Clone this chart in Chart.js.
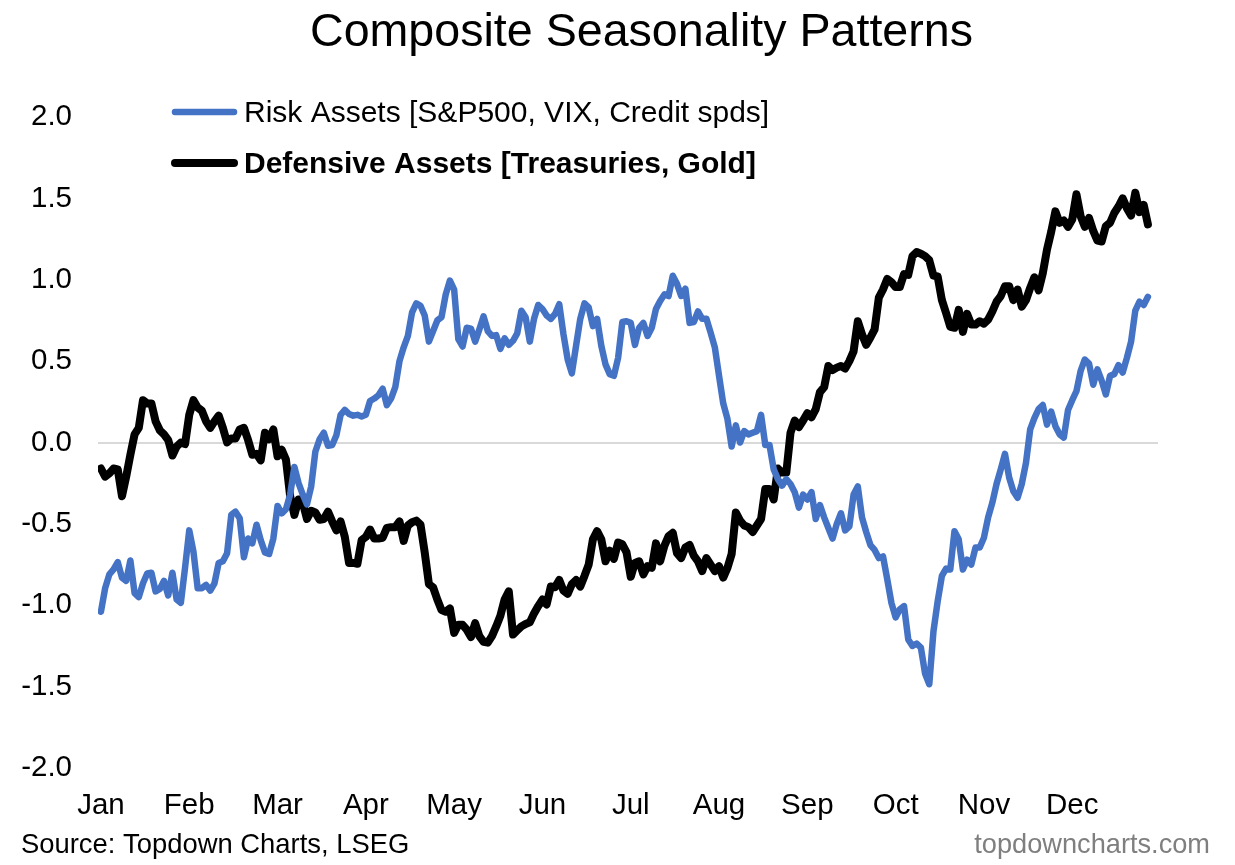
<!DOCTYPE html>
<html><head><meta charset="utf-8">
<style>html,body{margin:0;padding:0;background:#fff}#w{position:relative;width:1235px;height:865px}</style>
<script src="https://cdn.jsdelivr.net/npm/chart.js@4"></script>
</head><body><div id="w"><canvas id="c" width="1235" height="865"></canvas></div>
<script>
const titleText = "Composite Seasonality Patterns";
const seriesNames = ["Risk Assets [S&P500, VIX, Credit spds]", "Defensive Assets [Treasuries, Gold]"];
const sourceText = "Source: Topdown Charts, LSEG";
const brandText = "topdowncharts.com";
const months = ["Jan","Feb","Mar","Apr","May","Jun","Jul","Aug","Sep","Oct","Nov","Dec"];
const monthDays = [0,21,42,63,84,105,126,147,168,189,210,231];
const riskAssets = [
-1.04,-0.895,-0.81,-0.78,-0.735,-0.83,-0.85,-0.725,-0.925,-0.95,
-0.865,-0.805,-0.80,-0.915,-0.90,-0.85,-0.94,-0.80,-0.965,-0.985,
-0.77,-0.54,-0.67,-0.895,-0.895,-0.875,-0.91,-0.865,-0.74,-0.73,
-0.68,-0.445,-0.425,-0.465,-0.705,-0.59,-0.62,-0.505,-0.60,-0.675,
-0.685,-0.59,-0.39,-0.435,-0.41,-0.32,-0.15,-0.25,-0.32,-0.38,
-0.27,-0.055,0.02,0.06,-0.02,-0.015,0.045,0.17,0.20,0.175,
0.165,0.17,
0.16,0.17,0.255,0.27,0.29,0.33,0.23,0.27,0.34,0.50,
0.585,0.655,0.80,0.855,0.84,0.78,0.62,0.685,0.75,0.77,
0.91,0.995,0.94,0.635,0.59,0.705,0.70,0.62,0.695,0.775,
0.685,0.655,0.66,0.575,0.64,0.60,0.625,0.67,0.81,0.77,
0.62,0.76,0.845,0.82,0.78,0.76,0.79,0.85,0.665,0.51,
0.425,0.595,0.76,0.855,0.83,0.715,0.76,0.595,0.48,0.42,
0.41,0.52,0.74,0.745,0.735,
0.60,0.705,0.735,0.655,0.705,0.82,0.87,0.91,0.90,1.025,
0.975,0.90,0.945,0.735,0.74,0.805,0.76,0.76,0.675,0.585,
0.41,0.24,0.145,-0.025,0.105,0,0.07,0.05,0.06,0.07,
0.17,-0.015,-0.015,-0.165,-0.225,-0.265,-0.225,-0.255,-0.305,
-0.40,-0.32,-0.35,-0.305,-0.47,-0.385,-0.46,-0.525,-0.59,-0.50,
-0.435,-0.54,-0.515,-0.32,-0.27,-0.46,-0.55,-0.63,-0.66,-0.71,
-0.70,-0.84,-0.985,-1.075,-1.025,-1.005,-1.21,-1.25,-1.235,-1.26,
-1.42,-1.485,-1.16,-0.975,-0.82,-0.775,-0.78,-0.545,-0.595,-0.78,
-0.72,-0.75,-0.645,-0.645,-0.585,-0.46,-0.37,-0.255,-0.165,-0.07,
-0.215,-0.30,-0.34,-0.255,-0.125,0.08,
0.15,0.205,0.23,0.11,0.19,0.10,0.05,0.03,0.20,0.26,
0.315,0.44,0.51,0.485,0.355,0.45,0.38,0.295,0.41,0.42,
0.475,0.43,0.52,0.62,0.81,0.865,0.845,0.895
];
const defensiveAssets = [
-0.16,-0.21,-0.19,-0.16,-0.165,-0.33,-0.21,-0.075,0.05,0.09,
0.26,0.24,0.24,0.13,0.075,0.05,0.015,-0.08,-0.025,0,
-0.01,0.17,0.26,0.215,0.195,0.13,0.09,0.13,0.165,0.09,
0,0.025,0.025,0.08,0.09,0.015,-0.075,-0.07,-0.11,0.06,
0.02,0.08,-0.085,-0.045,-0.105,-0.33,-0.445,-0.35,-0.37,-0.47,
-0.42,-0.43,-0.475,-0.47,-0.425,-0.485,-0.54,-0.485,-0.58,-0.74,
-0.74,-0.745,-0.60,-0.58,-0.535,
-0.59,-0.59,-0.585,-0.525,-0.52,-0.52,-0.485,-0.605,-0.51,-0.49,
-0.48,-0.505,-0.675,-0.87,-0.89,-0.965,-1.03,-1.04,-1.02,-1.17,
-1.12,-1.12,-1.15,-1.195,-1.11,-1.19,-1.225,-1.23,-1.19,-1.13,
-1.065,-0.965,-0.915,-1.18,-1.155,-1.13,-1.115,-1.105,-1.05,-1.005,
-0.965,-0.995,-0.885,-0.89,-0.845,-0.91,-0.93,-0.87,-0.845,-0.885,
-0.82,-0.75,-0.595,-0.545,-0.595,-0.73,-0.665,-0.715,-0.615,-0.625,
-0.675,-0.825,
-0.74,-0.73,-0.81,-0.76,-0.77,-0.62,-0.73,-0.635,-0.575,-0.555,
-0.68,-0.71,-0.645,-0.63,-0.695,-0.73,-0.79,-0.71,-0.75,-0.79,
-0.76,-0.83,-0.77,-0.685,-0.43,-0.48,-0.51,-0.52,-0.55,-0.51,
-0.47,-0.285,-0.285,-0.35,-0.16,-0.185,-0.185,0.06,0.135,0.095,
0.135,0.18,0.155,0.205,0.31,0.34,0.47,0.445,0.46,0.47,
0.455,0.50,0.56,0.745,0.665,0.60,0.645,0.695,0.89,0.94,
1.005,0.985,0.955,0.955,
1.035,1.03,1.145,1.17,1.16,1.145,1.12,1.025,1.02,0.875,
0.795,0.71,0.705,0.815,0.68,0.79,0.725,0.725,0.745,0.73,
0.755,0.805,0.865,0.90,0.96,0.96,0.875,0.94,0.835,0.875,
0.95,1.015,0.935,1.04,1.185,1.295,1.42,1.35,1.365,1.325,
1.37,1.525,1.39,1.325,1.38,1.30,1.24,1.235,1.33,1.35,
1.41,1.45,1.50,1.44,1.395,1.535,1.415,1.46,1.34
];
const FONT = '"Liberation Sans", Arial, sans-serif';
const BLUE = '#4472C4', BLACK = '#000000';

const textPlugin = {
  id:'textPlugin',
  afterDraw(chart){
    const c = chart.ctx; c.save();
    c.textBaseline='middle';
    c.textAlign='center'; c.fillStyle='#000'; c.font='46.6px '+FONT;
    c.fillText(titleText,641.5,33);
    c.textAlign='left';
    c.lineCap='round';
    c.strokeStyle=BLUE; c.lineWidth=6.5; c.beginPath(); c.moveTo(175,112); c.lineTo(234,112); c.stroke();
    c.strokeStyle=BLACK; c.lineWidth=8; c.beginPath(); c.moveTo(175,163); c.lineTo(234,163); c.stroke();
    c.fillStyle='#000';
    c.font='30px '+FONT; c.fillText(seriesNames[0],244,114);
    c.font='bold 30px '+FONT; c.fillText(seriesNames[1],244,165);
    c.font='27.4px '+FONT; c.fillText(sourceText,21,845);
    c.fillStyle='#7f7f7f'; c.textAlign='right'; c.font='27.2px '+FONT; c.fillText(brandText,1210,846);
    c.restore();
  }
};

new Chart(document.getElementById('c'),{
  type:'line',
  data:{datasets:[
    {label:seriesNames[0],data:riskAssets.map((y,x)=>({x,y})),borderColor:BLUE,borderWidth:6.5,pointRadius:0,tension:0,borderJoinStyle:'round',borderCapStyle:'round'},
    {label:seriesNames[1],data:defensiveAssets.map((y,x)=>({x,y})),borderColor:BLACK,borderWidth:8,pointRadius:0,tension:0,borderJoinStyle:'round',borderCapStyle:'round'}
  ]},
  options:{
    responsive:false,animation:false,devicePixelRatio:1,
    layout:{padding:{top:117,right:77,bottom:0,left:0}},
    plugins:{legend:{display:false},title:{display:false},tooltip:{enabled:false}},
    scales:{
      x:{type:'linear',min:-0.7,max:251.4,
        afterBuildTicks(s){s.ticks=monthDays.map(value=>({value}));},
        afterFit(s){s.height=97;},
        grid:{display:false},border:{display:false},
        ticks:{autoSkip:false,maxRotation:0,minRotation:0,padding:12,color:'#000',font:{family:FONT,size:29.5},
          callback(v,i){return months[i];}}
      },
      y:{min:-2,max:2,
        afterFit(s){s.width=98;},
        border:{display:false},
        grid:{drawTicks:false,lineWidth:2,color(ctx){return ctx.tick&&ctx.tick.value===0?'#d9d9d9':'rgba(0,0,0,0)';}},
        ticks:{stepSize:0.5,padding:26,color:'#000',font:{family:FONT,size:29.5},callback(v){return v.toFixed(1);}}
      }
    }
  },
  plugins:[textPlugin]
});
</script></body></html>
